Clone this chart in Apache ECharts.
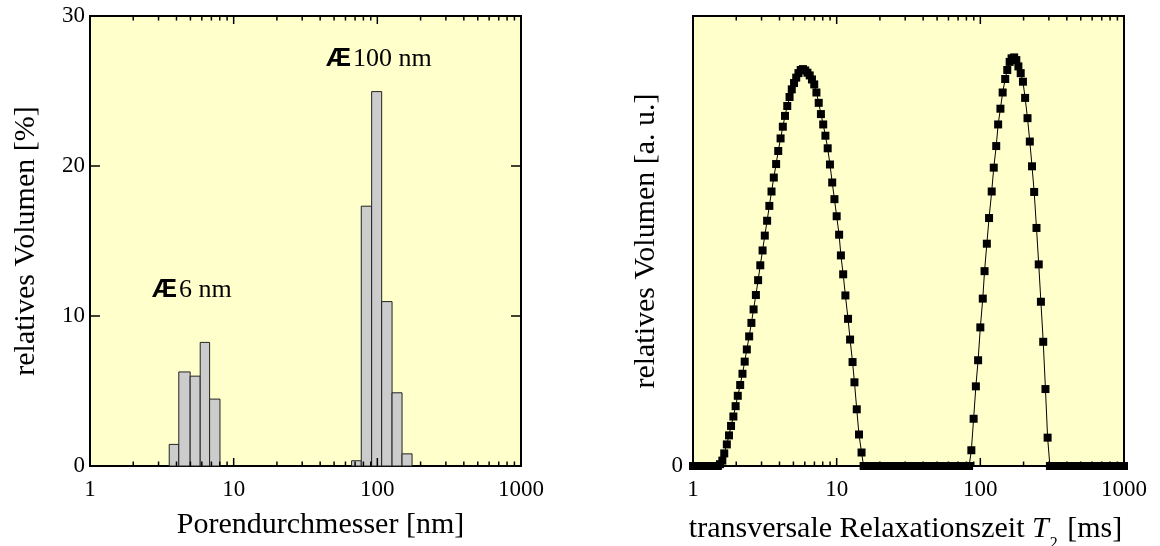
<!DOCTYPE html>
<html>
<head>
<meta charset="utf-8">
<script src="https://cdn.jsdelivr.net/npm/echarts@6/dist/echarts.min.js"></script>
<style>
  html, body { margin: 0; padding: 0; background: #fff; }
  #chart { width: 1160px; height: 546px; }
</style>
</head>
<body>
<div id="chart"></div>
<script>
// left panel: pore size histogram, bin edges in nm, volume in %
const binStart = [3.56, 4.15, 4.98, 5.85, 6.80, 66.2, 77.3, 91.3, 107.2, 126.6, 148.6];
const binEnd = [4.15, 4.98, 5.85, 6.80, 8.03, 77.3, 91.3, 107.2, 126.6, 148.6, 174.5];
const poreVolume = [1.44, 6.27, 5.99, 8.24, 4.46, 0.35, 17.32, 24.96, 10.96, 4.88, 0.81];
const poreLabels = ['6 nm', '100 nm'];

// right panel: T2 distribution (ms, arbitrary units)
const t2Ms = [
  1.00, 1.04, 1.07, 1.11, 1.15, 1.20, 1.24, 1.29, 1.33, 1.38, 1.43, 1.49, 1.54, 1.60, 1.65, 1.72,
  1.78, 1.84, 1.91, 1.98, 2.05, 2.13, 2.21, 2.29, 2.37, 2.46, 2.55, 2.64, 2.74, 2.84, 2.94, 3.05,
  3.16, 3.28, 3.40, 3.52, 3.65, 3.79, 3.92, 4.07, 4.22, 4.37, 4.53, 4.70, 4.87, 5.05, 5.23, 5.42,
  5.62, 5.83, 6.04, 6.26, 6.49, 6.73, 6.98, 7.23, 7.50, 7.77, 8.06, 8.35, 8.66, 8.98, 9.31, 9.65,
  10.0, 10.4, 10.7, 11.1, 11.5, 12.0, 12.4, 12.9, 13.3, 13.8, 14.3, 14.9, 15.4, 16.0, 16.5, 17.2,
  17.8, 18.4, 19.1, 19.8, 20.5, 21.3, 22.1, 22.9, 23.7, 24.6, 25.5, 26.4, 27.4, 28.4, 29.4, 30.5,
  31.6, 32.8, 34.0, 35.2, 36.5, 37.9, 39.2, 40.7, 42.2, 43.7, 45.3, 47.0, 48.7, 50.5, 52.3, 54.2,
  56.2, 58.3, 60.4, 62.6, 64.9, 67.3, 69.8, 72.3, 75.0, 77.7, 80.6, 83.5, 86.6, 89.8, 93.1, 96.5,
  100, 104, 107, 111, 115, 120, 124, 129, 133, 138, 143, 149, 154, 160, 165, 172,
  178, 184, 191, 198, 205, 213, 221, 229, 237, 246, 255, 264, 274, 284, 294, 305,
  316, 328, 340, 352, 365, 379, 392, 407, 422, 437, 453, 470, 487, 505, 523, 542,
  562, 583, 604, 626, 649, 673, 698, 723, 750, 777, 806, 835, 866, 898, 931, 965,
  1000
];
const relVolume = [
  0, 0, 0, 0, 0, 0, 0, 0, 0, 0, 0, 0, 0.4, 1.2, 2.8, 4.8,
  6.8, 8.9, 11.0, 13.3, 15.6, 18.0, 20.5, 23.2, 25.9, 28.8, 31.8, 34.8, 38.0, 41.3, 44.6, 47.9,
  51.2, 54.5, 57.8, 61.0, 64.1, 67.1, 70.0, 72.8, 75.4, 77.8, 80.0, 82.0, 83.7, 85.1, 86.3, 87.3,
  88.0, 88.2, 87.9, 87.4, 86.8, 85.9, 84.8, 83.0, 80.7, 78.2, 75.9, 73.4, 70.6, 67.0, 63.0, 59.3,
  55.5, 51.4, 46.8, 42.6, 37.9, 32.7, 28.1, 23.1, 18.6, 12.6, 7.0, 3.0, 0, 0, 0, 0,
  0, 0, 0, 0, 0, 0, 0, 0, 0, 0, 0, 0, 0, 0, 0, 0,
  0, 0, 0, 0, 0, 0, 0, 0, 0, 0, 0, 0, 0, 0, 0, 0,
  0, 0, 0, 0, 0, 0, 0, 0, 0, 0, 0, 0, 3.5, 10.5, 17.7, 23.5,
  30.8, 37.2, 43.3, 49.4, 55.1, 61.0, 66.3, 71.1, 75.9, 79.4, 83.0, 86.0, 88.0, 89.8, 90.6, 90.8,
  90.2, 88.8, 87.3, 85.4, 81.8, 77.3, 72.1, 66.6, 60.9, 52.9, 44.8, 36.5, 27.6, 17.1, 6.3, 0,
  0, 0, 0, 0, 0, 0, 0, 0, 0, 0, 0, 0, 0, 0, 0, 0,
  0, 0, 0, 0, 0, 0, 0, 0, 0, 0, 0, 0, 0, 0, 0, 0,
  0
];

// log axis ticks
const decadeTicks = [1, 10, 100, 1000];
const minorTicks = [2, 3, 4, 5, 6, 7, 8, 9, 20, 30, 40, 50, 60, 70, 80, 90,
  200, 300, 400, 500, 600, 700, 800, 900];

const serif = 'Liberation Serif';
const chart = echarts.init(document.getElementById('chart'));

function tickSeries(xi, yi, values, len) {
  return {
    type: 'custom',
    xAxisIndex: xi,
    yAxisIndex: yi,
    silent: true,
    clip: false,
    data: values.map((v) => [v, 0]),
    encode: { x: 0, y: 1 },
    renderItem: (params, api) => {
      const x = api.coord([api.value(0), 0])[0];
      const g = params.coordSys;
      const style = { stroke: '#000', lineWidth: 1.5 };
      return {
        type: 'group',
        children: [
          { type: 'line', shape: { x1: x, y1: g.y + g.height, x2: x, y2: g.y + g.height - len }, style },
          { type: 'line', shape: { x1: x, y1: g.y, x2: x, y2: g.y + len }, style },
        ],
      };
    },
  };
}

const logAxis = (gridIndex, name, nameGap, nameStyle) => ({
  type: 'log',
  logBase: 10,
  gridIndex,
  min: 1,
  max: 1000,
  name,
  nameLocation: 'middle',
  nameGap,
  nameTextStyle: Object.assign({ fontFamily: serif, fontSize: 30, color: '#000' }, nameStyle),
  axisLine: { show: false },
  axisTick: { show: false },
  splitLine: { show: false },
  axisLabel: {
    margin: 12,
    fontFamily: serif,
    fontSize: 23,
    color: '#000',
    formatter: (v) => String(Math.round(v)),
  },
});

const noteRich = {
  b: { fontFamily: 'Liberation Sans', fontWeight: 'bold', fontSize: 25, fill: '#000', padding: [0, 2, 0, 0] },
  t: { fontFamily: serif, fontSize: 26, fill: '#000' },
};

const option = {
  animation: false,
  textStyle: { fontFamily: serif },
  grid: [
    { left: 90, top: 16, width: 431, height: 450, outerBoundsMode: 'none', show: true, backgroundColor: '#ffffcc', borderColor: '#000', borderWidth: 2 },
    { left: 693, top: 16, width: 431, height: 450, outerBoundsMode: 'none', show: true, backgroundColor: '#ffffcc', borderColor: '#000', borderWidth: 2 },
  ],
  xAxis: [
    logAxis(0, 'Porendurchmesser [nm]', 44, { padding: [0, 0, 0, 30] }),
    logAxis(1, 'transversale Relaxationszeit {i|T}{s|2} [ms]', 30, {
      lineHeight: 46,
      padding: [0, 6, 0, 0],
      rich: {
        i: { fontFamily: serif, fontSize: 30, fontStyle: 'italic', color: '#000', lineHeight: 46 },
        s: { fontFamily: serif, fontSize: 16, color: '#000', lineHeight: 16, verticalAlign: 'bottom', padding: [0, 2, 0, 1] },
      },
    }),
  ],
  yAxis: [
    {
      type: 'value', gridIndex: 0, min: 0, max: 30, interval: 10,
      name: 'relatives Volumen [%]', nameLocation: 'middle', nameGap: 49,
      nameTextStyle: { fontFamily: serif, fontSize: 30, color: '#000' },
      axisLine: { show: false },
      axisTick: { show: true, inside: true, length: 10, lineStyle: { color: '#000', width: 1.5 } },
      splitLine: { show: false },
      axisLabel: { margin: 5, fontFamily: serif, fontSize: 23, color: '#000' },
    },
    {
      type: 'value', gridIndex: 0, min: 0, max: 30, interval: 10, position: 'right',
      axisLine: { show: false },
      axisTick: { show: true, inside: true, length: 10, lineStyle: { color: '#000', width: 1.5 } },
      splitLine: { show: false },
      axisLabel: { show: false },
    },
    {
      type: 'value', gridIndex: 1, min: 0, max: 100, interval: 100,
      name: 'relatives Volumen [a. u.]', nameLocation: 'middle', nameGap: 32,
      nameTextStyle: { fontFamily: serif, fontSize: 30, color: '#000' },
      axisLine: { show: false },
      axisTick: { show: false },
      splitLine: { show: false },
      axisLabel: {
        margin: 10, fontFamily: serif, fontSize: 23, color: '#000',
        formatter: (v) => (v === 0 ? '0' : ''),
      },
    },
  ],
  graphic: [
    {
      type: 'text', left: 152, top: 277,
      style: { text: '{b|Æ}{t|' + poreLabels[0] + '}', rich: noteRich },
    },
    {
      type: 'text', left: 326, top: 46,
      style: { text: '{b|Æ}{t|' + poreLabels[1] + '}', rich: noteRich },
    },
  ],
  series: [
    {
      type: 'custom',
      xAxisIndex: 0,
      yAxisIndex: 0,
      silent: true,
      data: binStart.map((s, i) => [s, binEnd[i], poreVolume[i]]),
      encode: { x: [0, 1], y: 2 },
      renderItem: (params, api) => {
        const p0 = api.coord([api.value(0), api.value(2)]);
        const p1 = api.coord([api.value(1), 0]);
        return {
          type: 'rect',
          shape: { x: p0[0], y: p0[1], width: p1[0] - p0[0], height: p1[1] - p0[1] },
          style: { fill: '#cccccc', stroke: '#222', lineWidth: 1 },
        };
      },
    },
    tickSeries(0, 0, decadeTicks, 8),
    tickSeries(0, 0, minorTicks, 4.5),
    tickSeries(1, 2, decadeTicks, 8),
    tickSeries(1, 2, minorTicks, 4.5),
    {
      type: 'line',
      xAxisIndex: 1,
      yAxisIndex: 2,
      data: t2Ms.map((t, i) => [t, relVolume[i]]),
      symbol: 'rect',
      symbolSize: 8,
      showSymbol: true,
      showAllSymbol: true,
      clip: false,
      silent: true,
      itemStyle: { color: '#000' },
      lineStyle: { color: '#000', width: 1 },
      z: 5,
    },
  ],
};

chart.setOption(option);
</script>
</body>
</html>
